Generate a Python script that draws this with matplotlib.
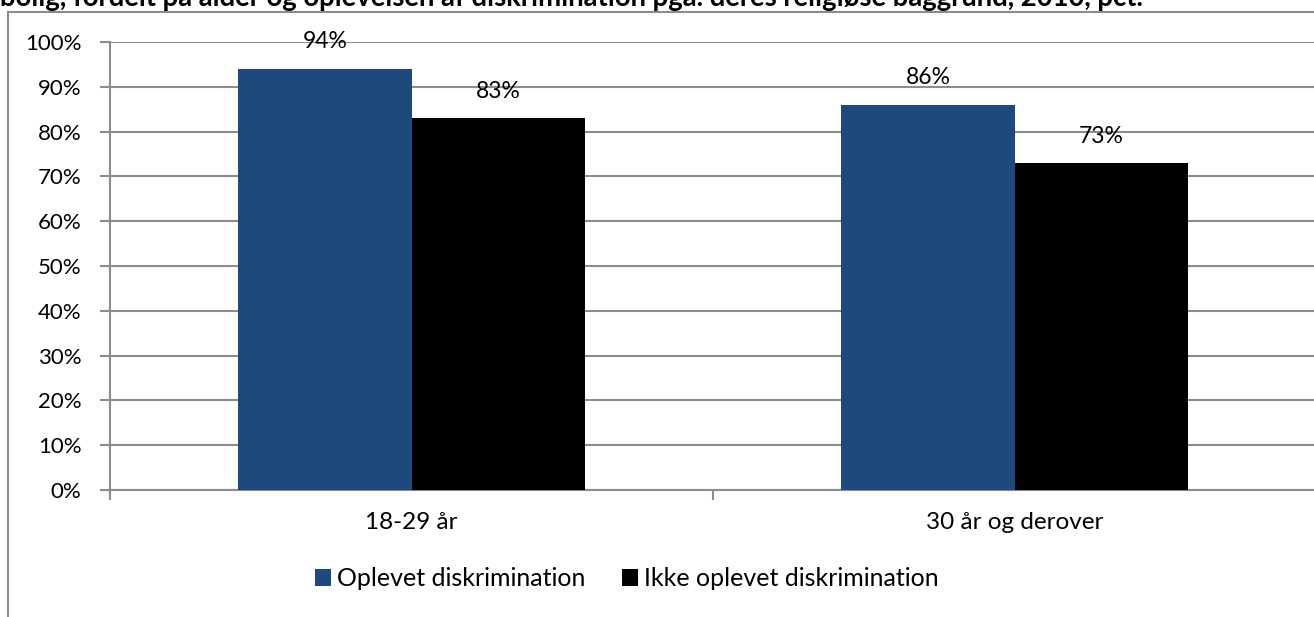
import matplotlib.pyplot as plt
import matplotlib.patches as mpatches
import numpy as np

plt.rcParams['font.family'] = ['Lato', 'DejaVu Sans']

kategorier = ['18-29 år', '30 år og derover']
serier = ['Oplevet diskrimination', 'Ikke oplevet diskrimination']
oplevet = [94, 86]
ikke_oplevet = [83, 73]
farver = ['#1F497D', '#000000']
titel = 'bolig, fordelt på alder og oplevelsen af diskrimination pga. deres religiøse baggrund, 2010, pct.'

W, H = 1314, 617
fig = plt.figure(figsize=(W / 100, H / 100), dpi=100)

# Excel-ramme rundt om diagrammet (går ud over kanten)
ramme = mpatches.Rectangle((8 / W, -0.1), 1.2, (H - 12) / H + 0.1, transform=fig.transFigure,
                           fill=False, edgecolor='#8C8C8C', linewidth=1.5)
fig.patches.append(ramme)

# titlen er skåret af i toppen, ligesom i originalen
fig.text(0.0, (H - 6) / H, titel, fontsize=19.8, fontweight='bold', ha='left', va='baseline')

ax = fig.add_axes([110 / W, (H - 490) / H, (1316 - 110) / W, (490 - 42) / H])
x = np.arange(len(kategorier))
b = 0.287
s1 = ax.bar(x - b / 2, oplevet, b, color=farver[0], label=serier[0], zorder=3)
s2 = ax.bar(x + b / 2, ikke_oplevet, b, color=farver[1], label=serier[1], zorder=3)
for s in (s1, s2):
    for r in s:
        ax.annotate(f'{int(r.get_height())}%', (r.get_x() + r.get_width() / 2, r.get_height()),
                    xytext=(0, 19.4), textcoords='offset points', ha='center', va='center', fontsize=16.5)

ax.set_xlim(-0.5, 1.5)
ax.set_ylim(0, 100)
ax.set_yticks(range(0, 101, 10))
ax.set_yticklabels([f'{v}%' for v in range(0, 101, 10)])
# kategorinavne som major ticks, skillestreger som minor ticks
ax.set_xticks(x)
ax.set_xticklabels(kategorier)
ax.set_xticks([-0.5, 0.5, 1.5], minor=True)
ax.tick_params(axis='x', which='major', length=0, pad=16, labelsize=17.5)
ax.tick_params(axis='x', which='minor', length=7, color='#8C8C8C', width=1.5)
ax.tick_params(axis='y', length=7, color='#8C8C8C', width=1.5, pad=13.5, labelsize=16)
ax.yaxis.grid(True, color='#8C8C8C', linewidth=1.5, zorder=0)
for k in ['top', 'right']:
    ax.spines[k].set_visible(False)
for k in ['left', 'bottom']:
    ax.spines[k].set_color('#8C8C8C')
    ax.spines[k].set_linewidth(1.5)

fig.legend(handles=[s1, s2], loc='center', bbox_to_anchor=(627 / W, (H - 579) / H), ncol=2,
           frameon=False, fontsize=18, handlelength=0.64, handleheight=0.64,
           handletextpad=0.25, columnspacing=1.45)

fig.savefig('out.png', dpi=100)
